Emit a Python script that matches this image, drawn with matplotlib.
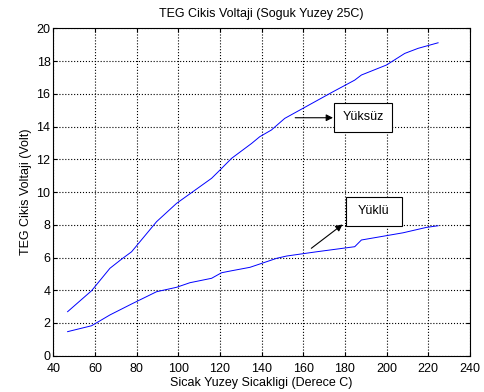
import matplotlib.pyplot as plt
from matplotlib.patches import Rectangle

plt.rcParams['font.family'] = ['Liberation Sans', 'DejaVu Sans']

# sicak yuzey sicakligi (C)
x_yuksuz = [46.9, 58.4, 67.2, 72.8, 77.6, 89.6, 99.2, 116.0, 119.2, 125.6, 135.2,
            139.1, 144.7, 151.1, 174.3, 184.7, 187.9, 199.9, 208.7, 215.1, 224.7]
v_yuksuz = [2.69, 3.97, 5.34, 5.9, 6.35, 8.19, 9.31, 10.84, 11.24, 12.06, 12.97,
            13.38, 13.79, 14.5, 16.13, 16.84, 17.15, 17.76, 18.47, 18.78, 19.12]

x_yuklu = [46.9, 58.4, 67.2, 77.6, 89.6, 99.2, 105.6, 116.0, 120.8, 125.6, 134.4,
           140.0, 147.2, 152.0, 166.4, 184.7, 187.9, 207.9, 219.1, 224.7]
v_yuklu = [1.47, 1.83, 2.49, 3.16, 3.91, 4.18, 4.46, 4.73, 5.07, 5.19, 5.4,
           5.64, 5.95, 6.09, 6.35, 6.66, 7.07, 7.51, 7.84, 7.94]

fs = 9

fig = plt.figure(figsize=(4.84, 3.92), dpi=100)
ax = fig.add_axes([0.110, 0.0926, 0.861, 0.835])

ax.plot(x_yuksuz, v_yuksuz, color='blue', lw=0.7)
ax.plot(x_yuklu, v_yuklu, color='blue', lw=0.7)

ax.set_xlim(40, 240)
ax.set_ylim(0, 20)
ax.set_xticks(range(40, 241, 20))
ax.set_yticks(range(0, 21, 2))
ax.grid(True, color='black', linestyle=':', lw=0.8)
ax.tick_params(direction='in', top=True, right=True, labelsize=fs, length=3)
ax.tick_params(axis='x', pad=5)
ax.tick_params(axis='y', pad=2)
for s in ax.spines.values():
    s.set_linewidth(0.8)

ax.set_title('TEG Cikis Voltaji (Soguk Yuzey 25C)', fontsize=fs, pad=8)
ax.set_xlabel('Sicak Yuzey Sicakligi (Derece C)', fontsize=fs, labelpad=2)
ax.set_ylabel('TEG Cikis Voltaji (Volt)', fontsize=fs, labelpad=3)

ax.annotate('', xy=(175.6, 14.54), xytext=(154.8, 14.54),
            arrowprops=dict(arrowstyle='-|>', color='black', lw=0.8))
ax.annotate('', xy=(179.9, 8.12), xytext=(162.8, 6.46),
            arrowprops=dict(arrowstyle='-|>', color='black', lw=0.8))

# text boxes (pixel coords from top-left)
for (x0, y0, x1, y1, t) in [(334.3, 102.7, 391.7, 132.3, 'Yüksüz'),
                            (345.7, 196.7, 401.7, 226.0, 'Yüklü')]:
    fig.patches.append(Rectangle((x0 / 484, 1 - y1 / 392), (x1 - x0) / 484, (y1 - y0) / 392,
                                 transform=fig.transFigure, fc='white', ec='black', lw=0.8,
                                 zorder=5))
    fig.text((x0 + x1) / 2 / 484, 1 - (y0 + y1) / 2 / 392, t, fontsize=fs,
             ha='center', va='center', zorder=6)

plt.savefig('out.png', dpi=100)
